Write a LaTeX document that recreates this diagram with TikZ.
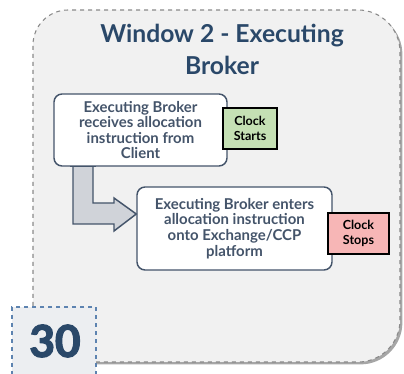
\documentclass[tikz,border=0pt]{standalone}
\usepackage{fontspec}
\setmainfont{Lato}
\newfontfamily\tagfont{Lato}[BoldFeatures={FakeBold=3}]
\usetikzlibrary{shadows,calc}
\definecolor{panelgray}{RGB}{241,241,241}
\definecolor{framegray}{RGB}{138,138,138}
\definecolor{titleblue}{RGB}{42,72,105}
\definecolor{slate}{RGB}{68,84,106}
\definecolor{arrowgray}{RGB}{208,211,217}
\definecolor{startgreen}{RGB}{197,224,180}
\definecolor{stoppink}{RGB}{247,182,182}
\definecolor{tagblue}{RGB}{93,131,176}
\definecolor{tagfill}{RGB}{236,238,241}

\begin{document}
\begin{tikzpicture}[
    x=0.75pt, y=-0.75pt,
    stepbox/.style={draw=slate,line width=1.1pt,rounded corners=6pt,fill=white,text=slate,
        font=\bfseries\fontsize{11.2}{11.7}\selectfont,align=center,inner sep=0pt},
    clockbox/.style={draw=black,line width=1pt,text=black,align=center,inner sep=0pt,
        font=\bfseries\fontsize{9.4}{11}\selectfont,minimum height=30.75pt},
    bentarrow/.style={draw=slate,line width=1.1pt,fill=arrowgray,line join=miter}
]
\useasboundingbox (0,0) rectangle (404,374);

% window panel
\path[fill=panelgray,draw=framegray,dashed,line width=0.8pt,
      drop shadow={shadow xshift=1.8pt,shadow yshift=-1.8pt,fill=black,opacity=0.35}]
    (33,362) -- (33,45) .. controls (33,25.7) and (48.7,10) .. (68,10)
    -- (358,10) .. controls (381.2,10) and (400,28.8) .. (400,52)
    -- (400,320) .. controls (400,343.2) and (381.2,362) .. (358,362) -- cycle;

\node[text=titleblue,font=\bfseries\fontsize{18.5}{24}\selectfont,align=center] (title)
    at (222,49) {Window 2 - Executing\\Broker};

% window number
\node[draw=tagblue,dashed,line width=0.9pt,fill=tagfill,minimum width=63pt,minimum height=54pt,
      inner sep=0pt] (tag) at (54,343) {};
\node[text=titleblue,font=\tagfont\bfseries\fontsize{33}{33}\selectfont] (num) at (55,341) {30};

\node[stepbox,minimum width=129.75pt,minimum height=54pt] (receive) at (140.5,130)
    {Executing Broker\\receives allocation\\instruction from\\Client};
\node[stepbox,minimum width=146.25pt,minimum height=62.25pt] (enter) at (234.5,228.5)
    {Executing Broker enters\\allocation instruction\\onto Exchange/CCP\\platform};

\coordinate (tip) at (enter.west |- 0,214);
\draw[bentarrow] (receive.south -| 73,0) -- (73,224) -- (114,224) -- (114,231) -- (tip)
    -- (114,198) -- (114,203) -- (93,203) -- (receive.south -| 93,0);
% redraw box edge over the shaft top
\draw[slate,line width=1.1pt] (receive.south -| 70,0) -- (receive.south -| 96,0);

\node[clockbox,fill=startgreen,minimum width=40.5pt] (starts) at (250,128.5) {Clock\\Starts};
\node[clockbox,fill=stoppink,minimum width=45.75pt] (stops) at (358.5,233.5) {Clock\\Stops};
\end{tikzpicture}
\end{document}
